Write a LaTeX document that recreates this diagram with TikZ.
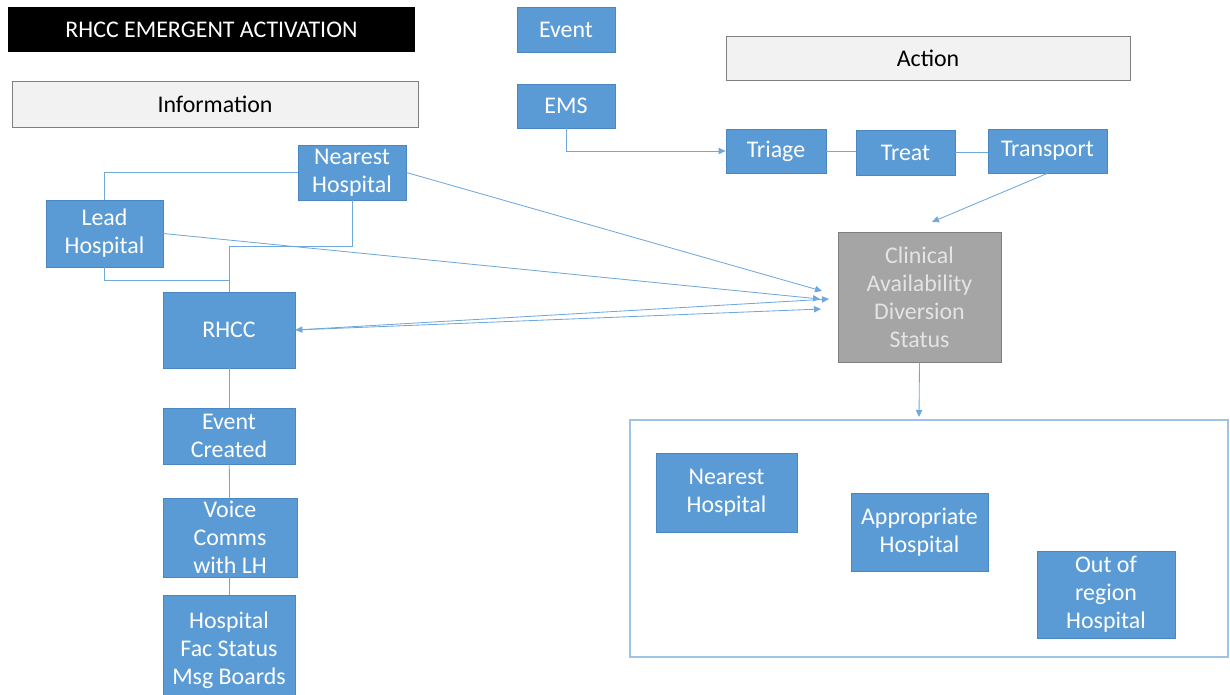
\documentclass[tikz,border=0pt]{standalone}
\usepackage{fontspec}
\setmainfont{Carlito}
\usetikzlibrary{arrows.meta}
\usetikzlibrary{calc}

\definecolor{boxblue}{HTML}{5B9BD5}
\definecolor{boxedge}{HTML}{4A86C0}
\definecolor{linblue}{HTML}{6FA8DC}
\definecolor{hdrfill}{HTML}{F2F2F2}
\definecolor{hdredge}{HTML}{7F7F7F}
\definecolor{clinfill}{HTML}{A5A5A5}
\definecolor{clintext}{HTML}{E4E4E4}
\definecolor{frameblue}{HTML}{9DC3E6}

\tikzset{
  sz/.style 2 args={minimum width=#1*0.025cm, minimum height=#2*0.025cm},
  blk/.style={draw=boxedge, fill=boxblue, text=white, align=center,
    inner sep=1pt, line width=0.5pt},
  hdr/.style={draw=hdredge, fill=hdrfill, text=black, line width=0.6pt},
  ln/.style={draw=linblue, line width=0.6pt},
  arr/.style={ln, -{Triangle[length=5pt,width=4.5pt]}},
}

\begin{document}
\begin{tikzpicture}[x=0.025cm, y=-0.025cm,
    every node/.style={font=\fontsize{17}{20}\selectfont}]
  \useasboundingbox (0,0) rectangle (1230,695);

  % headings
  \node[fill=black, text=white, sz={407}{45}] (title) at (211.5,29.5) {RHCC EMERGENT ACTIVATION};
  \node[hdr, sz={406}{46}] (info) at (215,104) {Information};
  \node[hdr, sz={404}{44}] (action) at (928,58) {Action};

  % event / EMS / action chain
  \node[blk, sz={98}{45}] (event) at (566,29.5) {Event};
  \node[blk, sz={98}{44}] (ems) at (566,106) {EMS};
  \node[blk, sz={100}{44}] (triage) at (776,151) {Triage};
  \node[blk, sz={99}{45}] (treat) at (905.5,152.5) {Treat};
  \node[blk, sz={119}{44}] (transport) at (1047.5,151) {Transport};

  % information side
  \node[blk, sz={108}{55}] (nearH) at (352,172.5) {Nearest\\Hospital};
  \node[blk, sz={117}{67}] (leadH) at (104.5,233.5) {Lead\\Hospital};
  \node[blk, sz={132}{76}] (rhcc) at (229,330) {RHCC};
  \node[blk, sz={132}{56}] (evCreated) at (229,436) {Event\\Created};
  \node[blk, sz={134}{79}] (voice) at (230,537.5) {Voice\\Comms\\with LH};
  \node[blk, sz={132}{110}, anchor=north] (facStatus) at (229,595) {Hospital\\Fac Status\\Msg Boards};

  % clinical status and destinations
  \node[draw=hdredge, fill=clinfill, text=clintext, align=center, sz={163}{130}] (clin) at (919.5,297)
    {Clinical\\Availability\\Diversion\\Status};
  \node[draw=frameblue, line width=0.8pt, sz={598}{237}] (dest) at (929,538.5) {};
  \node[blk, sz={141}{79}] (nearDest) at (726.5,492.5) {Nearest\\Hospital};
  \node[blk, sz={137}{78}] (approp) at (919.5,532) {Appropriate\\Hospital};
  \node[blk, sz={138}{87}] (outReg) at (1106,594.5) {Out of\\region\\Hospital};

  % free ends of the arrows at the status box
  \coordinate (inA) at (822,291);
  \coordinate (inB) at (820,299);
  \coordinate (inC) at (829,299);
  \coordinate (inD) at (821,309);
  \coordinate (inT) at (932,222);
  \coordinate (inF) at (919,417);

  \draw[arr] (ems.south) |- (triage.west);
  \draw[ln] (triage.east) -- (triage.east -| treat.west);
  \draw[ln] (treat.east) -- (treat.east -| transport.west);
  \draw[arr] (transport.south) -- (inT);

  \draw[ln] (nearH.west) -| (leadH.north);
  \draw[ln] (nearH.south) -- ++(0,46) -| (rhcc.north);
  \draw[ln] (leadH.south) -- ++(0,13) -| (rhcc.north);
  \draw[ln] (rhcc) -- (evCreated);
  \draw[ln] (evCreated) -- (voice);
  \draw[ln] (voice) -- (facStatus);

  \draw[arr] (nearH.east) -- (inA);
  \draw[arr] (leadH.east) -- (inB);
  \draw[arr, {Triangle[length=5pt,width=4.5pt]}-{Triangle[length=5pt,width=4.5pt]}] (rhcc.east) -- (inC);
  \draw[arr] (rhcc.east) -- (inD);
  \draw[arr] (clin.south) -- (inF);
\end{tikzpicture}
\end{document}
